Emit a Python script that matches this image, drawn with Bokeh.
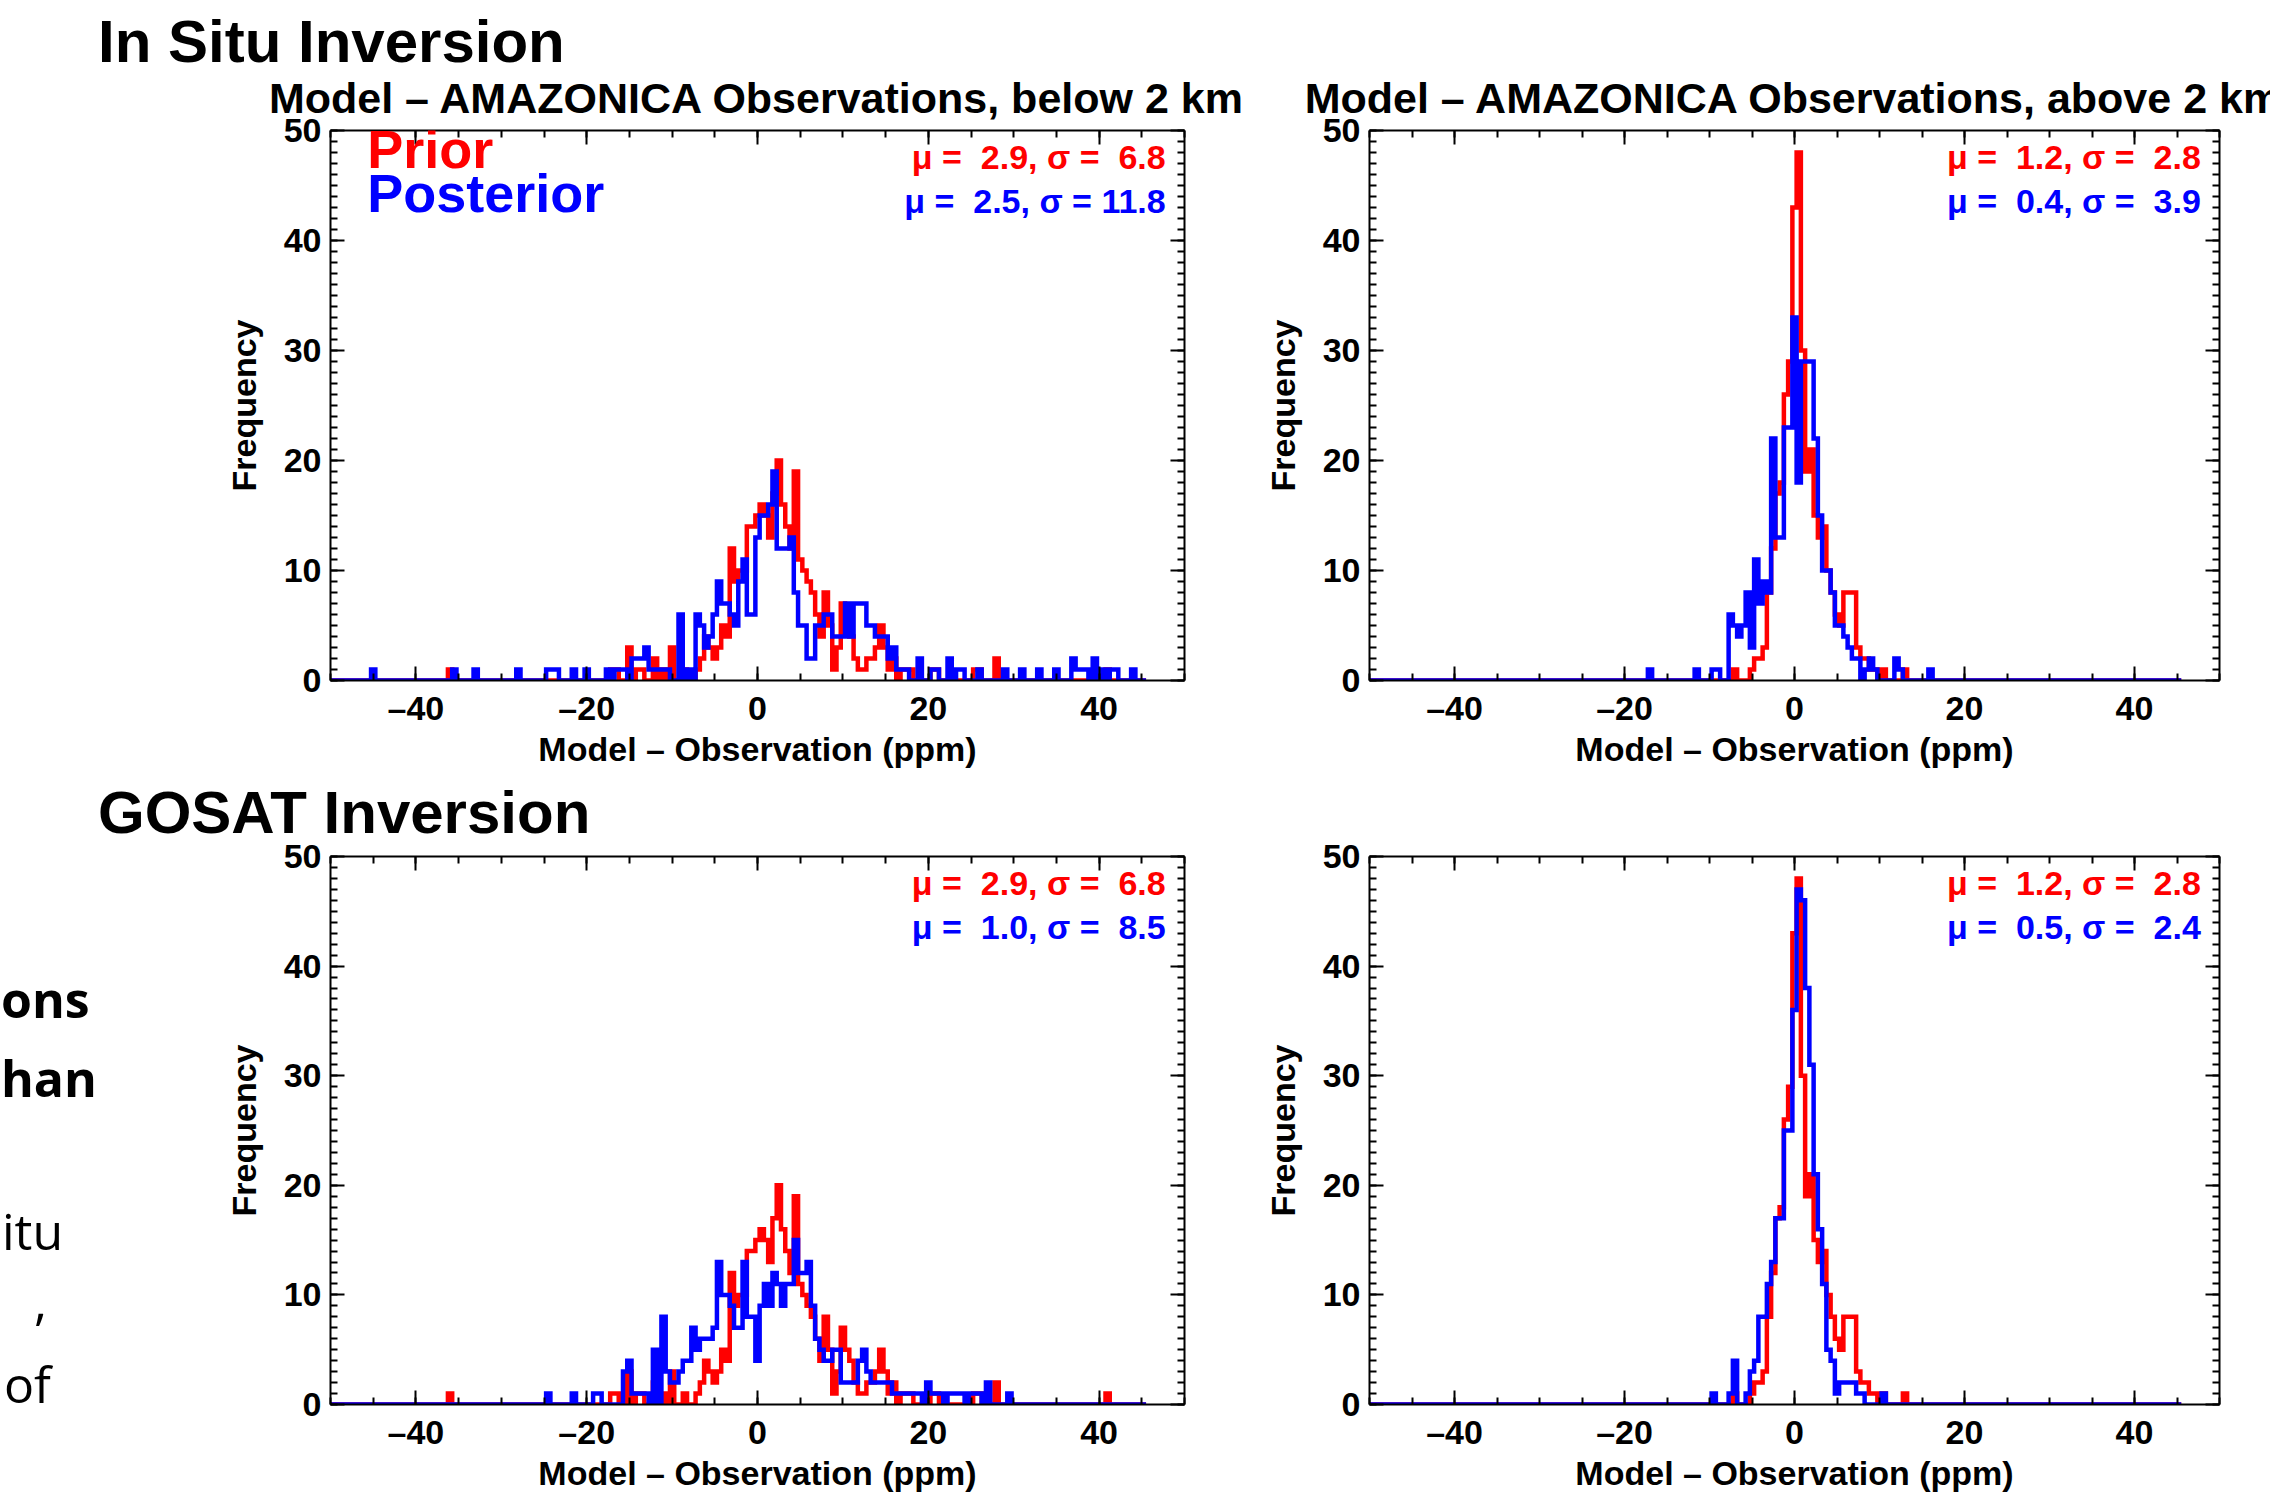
import numpy as np
from bokeh.plotting import figure
from bokeh.models import Range1d, LinearAxis, FixedTicker, Label, Div, Title
from bokeh.layouts import row, column
from bokeh.embed import file_html
from bokeh.resources import INLINE

# ---------------- data ----------------
BIN = 0.5
X_FIRST, X_LAST = -50.0, 45.5

X_MAJOR = [-40, -20, 0, 20, 40]
X_MINOR = list(range(-50, 51, 5))
Y_MAJOR = [0, 10, 20, 30, 40, 50]
Y_MINOR = list(range(0, 51, 1))
X_LABELS = {-40: "\u201340", -20: "\u201320", 0: "0", 20: "20", 40: "40"}

# prior, below 2 km (same in both inversions): bin centres and counts
low_prior_c = [-36, -17, -16.5, -15, -14, -13.5, -12, -11, -10, -8.5,
               -7, -6.5, -6, -5.5, -5, -4.5, -4, -3.5, -3, -2.5,
               -2, -1.5, -1, -0.5, 0, 0.5, 1, 1.5, 2, 2.5,
               3, 3.5, 4, 4.5, 5, 5.5, 6, 6.5, 7, 7.5,
               8, 8.5, 9, 9.5, 10, 10.5, 11, 11.5, 12, 12.5,
               13, 13.5, 14, 14.5, 15, 15.5, 16, 17, 17.5, 18,
               20.5, 21, 25.5, 26, 28, 41]
low_prior_n = [1, 1, 1, 3, 1, 1, 2, 1, 3, 1,
               1, 2, 4, 3, 2, 3, 5, 4, 12, 9,
               10, 10, 14, 14, 15, 16, 15, 13, 17, 20,
               16, 14, 12, 19, 11, 10, 9, 8, 6, 4,
               8, 5, 1, 3, 7, 5, 4, 2, 1, 1,
               2, 2, 3, 5, 3, 1, 2, 1, 1, 1,
               1, 1, 1, 1, 2, 1]

# posterior, in situ inversion, below 2 km
insitu_low_c = [-45, -35.5, -33, -28, -24.5, -24, -23.5, -21.5, -20, -17.5,
                -16.5, -16, -15.5, -14.5, -14, -13.5, -13, -12.5, -12, -11.5,
                -11, -10.5, -9, -8, -7, -6.5, -6, -5.5, -5, -4.5,
                -4, -3.5, -3, -2.5, -2, -1.5, -1, -0.5, 0, 0.5,
                1, 1.5, 2, 2.5, 3, 3.5, 4, 4.5, 5, 5.5,
                6, 6.5, 7, 7.5, 8, 8.5, 9, 9.5, 10, 10.5,
                11, 11.5, 12, 12.5, 13, 13.5, 14, 14.5, 15, 15.5,
                16, 16.5, 17, 17.5, 19, 20.5, 21, 22.5, 23.5, 24,
                26, 29, 31, 33, 35, 37, 37.5, 38, 38.5, 39.5,
                40.5, 41.5, 42, 44]
insitu_low_n = [1, 1, 1, 1, 1, 1, 1, 1, 1, 1,
                1, 1, 1, 2, 2, 2, 3, 1, 1, 1,
                1, 1, 6, 1, 6, 5, 3, 4, 6, 9,
                7, 7, 6, 5, 9, 11, 6, 6, 13, 15,
                15, 16, 19, 12, 12, 12, 13, 8, 5, 5,
                2, 2, 5, 5, 6, 6, 4, 4, 4, 7,
                4, 7, 7, 7, 5, 5, 4, 4, 4, 2,
                3, 1, 1, 1, 2, 1, 1, 2, 1, 1,
                1, 1, 1, 1, 1, 2, 1, 1, 1, 2,
                1, 1, 1, 1]

# posterior, GOSAT inversion, below 2 km
gosat_low_c = [-24.5, -21.5, -19, -18.5, -15.5, -15, -14.5, -14, -13.5, -13,
               -12, -11, -10.5, -10, -9.5, -9, -8.5, -8, -7.5, -7,
               -6.5, -6, -5.5, -5, -4.5, -4, -3.5, -3, -2.5, -2,
               -1.5, -1, -0.5, 0, 0.5, 1, 1.5, 2, 2.5, 3,
               3.5, 4, 4.5, 5, 5.5, 6, 6.5, 7, 7.5, 8,
               8.5, 9, 9.5, 10, 10.5, 11, 11.5, 12, 12.5, 13,
               13.5, 14, 14.5, 15, 15.5, 16, 16.5, 17, 17.5, 18,
               18.5, 19, 20, 20.5, 21, 21.5, 22.5, 23, 23.5, 24,
               25, 25.5, 26, 27, 29.5]
gosat_low_n = [1, 1, 1, 1, 3, 4, 1, 1, 1, 1,
               5, 8, 3, 2, 2, 3, 4, 4, 7, 5,
               6, 6, 6, 7, 13, 10, 10, 9, 7, 7,
               13, 8, 8, 4, 9, 11, 9, 12, 11, 9,
               11, 11, 15, 12, 12, 13, 9, 6, 5, 4,
               4, 5, 5, 2, 2, 2, 2, 4, 5, 3,
               2, 2, 2, 2, 2, 1, 1, 1, 1, 1,
               1, 1, 2, 1, 1, 1, 1, 1, 1, 1,
               1, 1, 1, 2, 1]

# prior, above 2 km (same in both inversions)
high_prior_c = [-7, -5, -4.5, -4, -3.5, -3, -2.5, -2, -1.5, -1,
                -0.5, 0, 0.5, 1, 1.5, 2, 2.5, 3, 3.5, 4,
                4.5, 5, 5.5, 6, 6.5, 7, 7.5, 8, 8.5, 9,
                9.5, 10.5, 13]
high_prior_n = [1, 1, 2, 2, 3, 8, 12, 17, 18, 26,
                29, 43, 48, 30, 19, 21, 15, 13, 14, 10,
                8, 6, 5, 8, 8, 8, 3, 2, 2, 1,
                1, 1, 1]

# posterior, in situ inversion, above 2 km
insitu_high_c = [-17, -11.5, -9.5, -9, -7.5, -7, -6.5, -6, -5.5, -5,
                 -4.5, -4, -3.5, -3, -2.5, -2, -1.5, -1, -0.5, 0,
                 0.5, 1, 1.5, 2, 2.5, 3, 3.5, 4, 4.5, 5,
                 5.5, 6, 6.5, 7, 7.5, 8.5, 9, 9.5, 12, 12.5,
                 16]
insitu_high_n = [1, 1, 1, 1, 6, 5, 4, 5, 8, 3,
                 11, 7, 9, 8, 22, 13, 13, 23, 23, 33,
                 18, 29, 29, 29, 22, 15, 10, 10, 8, 5,
                 5, 4, 3, 2, 2, 1, 2, 1, 2, 1,
                 1]

# posterior, GOSAT inversion, above 2 km
gosat_high_c = [-9.5, -7.5, -7, -5.5, -5, -4.5, -4, -3.5, -3, -2.5,
                -2, -1.5, -1, -0.5, 0, 0.5, 1, 1.5, 2, 2.5,
                3, 3.5, 4, 4.5, 5, 5.5, 6, 6.5, 7, 7.5,
                8, 10.5]
gosat_high_n = [1, 1, 4, 1, 3, 4, 8, 8, 11, 13,
                17, 17, 25, 25, 36, 47, 46, 38, 31, 21,
                16, 11, 5, 4, 1, 2, 2, 2, 2, 1,
                1, 1]

titles = ["Model \u2013 AMAZONICA Observations, below 2 km",
          "Model \u2013 AMAZONICA Observations, above 2 km"]
headings = ["In Situ Inversion", "GOSAT Inversion"]
stat_prior = [(2.9, 6.8), (1.2, 2.8), (2.9, 6.8), (1.2, 2.8)]
stat_post = [(2.5, 11.8), (0.4, 3.9), (1.0, 8.5), (0.5, 2.4)]
fragments = ["ons", "han", "itu", ",", "of"]
fragment_weight = ["bold", "bold", "normal", "normal", "normal"]

# ---------------- styling ----------------
FONT = "Liberation Sans"
RED = "#ff0000"
BLUE = "#0000ff"
LINE_W = 4.5


def full_hist(c, n):
    assert len(c) == len(n)
    centers = np.arange(X_FIRST, X_LAST + BIN / 2, BIN)
    counts = np.zeros_like(centers)
    for ci, ni in zip(c, n):
        counts[int(round((ci - X_FIRST) / BIN))] = ni
    return centers, counts


def stat_text(mu, sd):
    def f(v):
        return f"{v:4.1f}".replace(" ", "\u00a0")
    return f"\u03bc =\u00a0{f(mu)}, \u03c3 =\u00a0{f(sd)}"


def style_axis(ax, labels=True):
    ax.axis_line_width = 2
    ax.axis_line_color = "black"
    ax.major_tick_line_width = 2
    ax.minor_tick_line_width = 2
    ax.major_tick_line_color = "black"
    ax.minor_tick_line_color = "black"
    ax.major_tick_in = 14
    ax.major_tick_out = 0
    ax.minor_tick_in = 7
    ax.minor_tick_out = 0
    if labels:
        ax.major_label_text_font = FONT
        ax.major_label_text_font_size = "34px"
        ax.major_label_text_font_style = "bold"
        ax.major_label_text_color = "black"
        ax.axis_label_text_font = FONT
        ax.axis_label_text_font_size = "34px"
        ax.axis_label_text_font_style = "bold"
        ax.axis_label_text_color = "black"
    else:
        ax.major_label_text_color = None
        ax.major_label_text_font_size = "0px"
        ax.major_label_standoff = 0


def panel(idx, width, height, bl, br, bt, bb, title, prior, post):
    p = figure(width=width, height=height, x_range=Range1d(-50, 50), y_range=Range1d(0, 50),
               output_backend="svg", toolbar_location=None,
               x_axis_type=None, y_axis_type=None,
               min_border_left=bl, min_border_right=br, min_border_top=bt, min_border_bottom=bb)
    p.outline_line_color = None
    p.background_fill_color = "white"
    p.border_fill_color = None

    xb = LinearAxis(ticker=FixedTicker(ticks=X_MAJOR, minor_ticks=X_MINOR),
                    axis_label="Model \u2013 Observation (ppm)", major_label_overrides=X_LABELS)
    style_axis(xb)
    xb.major_label_standoff = 8
    xb.axis_label_standoff = 0
    p.add_layout(xb, "below")

    yl = LinearAxis(ticker=FixedTicker(ticks=Y_MAJOR, minor_ticks=Y_MINOR), axis_label="Frequency")
    style_axis(yl)
    yl.major_label_standoff = 9
    yl.axis_label_standoff = 18
    p.add_layout(yl, "left")

    xa = LinearAxis(ticker=FixedTicker(ticks=X_MAJOR, minor_ticks=X_MINOR))
    style_axis(xa, labels=False)
    p.add_layout(xa, "above")
    yr = LinearAxis(ticker=FixedTicker(ticks=Y_MAJOR, minor_ticks=Y_MINOR))
    style_axis(yr, labels=False)
    p.add_layout(yr, "right")

    xs, ys = full_hist(*prior)
    p.step(xs, ys, mode="center", line_color=RED, line_width=LINE_W, line_join="miter")
    xs, ys = full_hist(*post)
    p.step(xs, ys, mode="center", line_color=BLUE, line_width=LINE_W, line_join="miter")

    if title:
        p.add_layout(Title(text=title, align="center", text_font=FONT,
                           text_font_size="43px", text_font_style="bold", text_color="black",
                           standoff=17), "above")
    mp, sp = stat_prior[idx]
    mq, sq = stat_post[idx]
    p.add_layout(Label(x=47.8, y=47.6, text=stat_text(mp, sp), text_align="right",
                       text_baseline="middle", text_font=FONT, text_font_size="34px",
                       text_font_style="bold", text_color=RED))
    p.add_layout(Label(x=47.8, y=43.6, text=stat_text(mq, sq), text_align="right",
                       text_baseline="middle", text_font=FONT, text_font_size="34px",
                       text_font_style="bold", text_color=BLUE))
    return p


def heading_div(text, width, height, left, top):
    html = (f'<div style="position:relative;width:{width}px;height:{height}px;">'
            f'<span style="position:absolute;left:{left}px;top:{top}px;white-space:nowrap;'
            f'font-family:\'{FONT}\';font-weight:bold;font-size:60px;line-height:60px;color:black;">'
            f'{text}</span></div>')
    return Div(text=html, width=width, height=height, margin=0)


def fragment_div(width, height, lefts, tops):
    spans = []
    for t, w, lx, tp in zip(fragments, fragment_weight, lefts, tops):
        spans.append(f'<span style="position:absolute;left:{lx}px;top:{tp}px;white-space:nowrap;'
                     f'font-family:\'Open Sans\';font-weight:{w};font-size:50px;line-height:56px;'
                     f'color:black;">{t}</span>')
    html = (f'<div style="position:relative;width:{width}px;height:{height}px;">'
            + "".join(spans) + '</div>')
    return Div(text=html, width=width, height=height, margin=0)


LEFT_W = 1260
RIGHT_L, RIGHT_R = 105, 51
RIGHT_W = RIGHT_L + 854 + RIGHT_R
TOTAL_W = LEFT_W + RIGHT_W
HEAD_H = 63
TOP_B = 67
TOP_H = TOP_B + 550 + 99
MID_H = 56
BOT_B = 21
BOT_H = BOT_B + 548 + 93
FRAG_W = 120
LEFT_R = LEFT_W - 330 - 854

tl = panel(0, LEFT_W, TOP_H, 330, LEFT_R, TOP_B, 99, titles[0],
           (low_prior_c, low_prior_n), (insitu_low_c, insitu_low_n))
tr = panel(1, RIGHT_W, TOP_H, RIGHT_L, RIGHT_R, TOP_B, 99, titles[1],
           (high_prior_c, high_prior_n), (insitu_high_c, insitu_high_n))
bl = panel(2, LEFT_W - FRAG_W, BOT_H, 330 - FRAG_W, LEFT_R, BOT_B, 93, None,
           (low_prior_c, low_prior_n), (gosat_low_c, gosat_low_n))
br = panel(3, RIGHT_W, BOT_H, RIGHT_L, RIGHT_R, BOT_B, 93, None,
           (high_prior_c, high_prior_n), (gosat_high_c, gosat_high_n))

# legend words
tl.add_layout(Label(x=-45.7, y=48.3, text="Prior", text_align="left", text_baseline="alphabetic",
                    text_font=FONT, text_font_size="54px", text_font_style="bold", text_color=RED))
tl.add_layout(Label(x=-45.7, y=44.3, text="Posterior", text_align="left", text_baseline="alphabetic",
                    text_font=FONT, text_font_size="54px", text_font_style="bold", text_color=BLUE))

head1 = heading_div(headings[0], TOTAL_W, HEAD_H, 98, 12)
head2 = heading_div(headings[1], TOTAL_W, MID_H, 98, 4)
frag = fragment_div(FRAG_W, BOT_H, [1, 1, 2, 34, 4], [136, 215, 368, 438, 521])

layout = column(head1, row(tl, tr), head2, row(frag, bl, br))
open("out.html", "w").write(file_html(layout, INLINE))
